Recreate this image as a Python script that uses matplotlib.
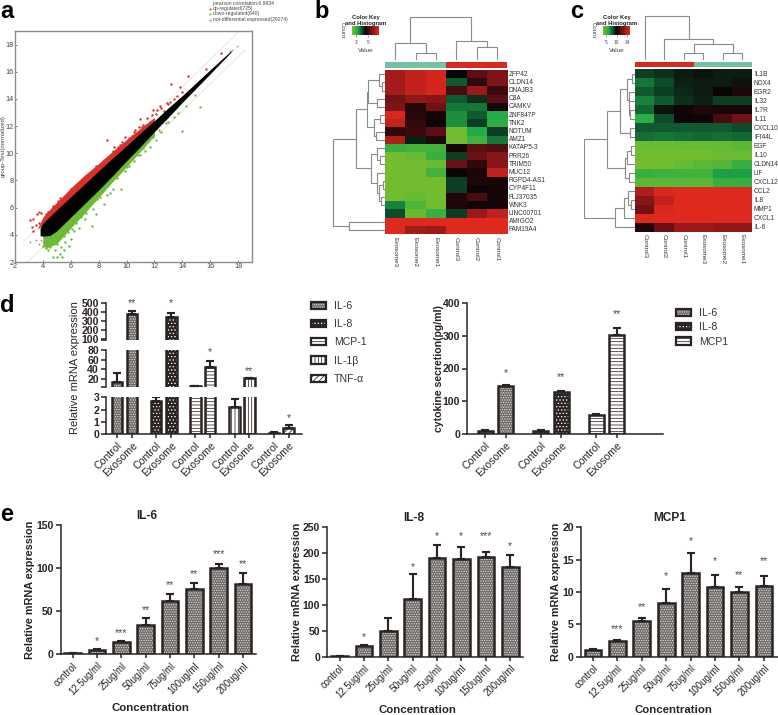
import numpy as np
import matplotlib
matplotlib.use("Agg")
import matplotlib.pyplot as plt
from matplotlib.colors import LinearSegmentedColormap
from matplotlib.patches import Patch, Rectangle
from matplotlib.legend_handler import HandlerBase

plt.rcParams['font.family'] = ['Liberation Sans', 'DejaVu Sans']
plt.rcParams['hatch.linewidth'] = 0.55

W, H = 778, 715
INK = '#2b2321'
STAR = '#4a4a4a'

# ---------- panel a ----------
band_x = [3.8, 4, 4.5, 5, 6, 7, 8, 9, 10, 11, 12, 13, 14, 15, 16, 17, 17.5]
band_hi = [4.5, 4.85, 5.35, 5.85, 6.8, 7.75, 8.7, 9.65, 10.55, 11.5, 12.4, 13.35, 14.25, 15.2, 16.15, 17.08, 17.55]
band_lo = [3.95, 3.9, 3.95, 4.3, 5.3, 6.3, 7.3, 8.35, 9.45, 10.5, 11.6, 12.65, 13.75, 14.8, 15.85, 16.92, 17.45]
red_x = [3.6, 4, 4.6, 5.2, 6, 7, 8, 9, 10, 11, 12]
red_hi = [4.4, 5.3, 6.0, 6.6, 7.45, 8.4, 9.25, 10.15, 11.0, 11.85, 12.65]
green_x = [4, 4.3, 5, 6, 7, 8, 9, 10, 11, 12]
green_lo = [3.15, 3.05, 3.35, 4.5, 5.6, 6.75, 7.9, 9.0, 10.15, 11.3]
red_px = [3.05, 3.3, 3.6, 3.75, 3.9, 3.5, 3.3, 3.2, 3.7, 4.1, 4.3, 4.5, 4.6, 4.8, 4.9, 5, 5.1, 5.3, 5.5, 5.6, 5.9,
          6.2, 6.4, 6.6, 6.7, 7.0, 7.2, 7.3, 7.5, 7.7, 7.9, 8.1, 8.3, 8.5, 8.6, 8.7, 8.9, 9.1, 9.2, 9.4, 9.6, 9.8,
          10, 10.2, 10.5, 10.7, 11, 11.1, 11.4, 11.7, 11.9, 12.1, 12.4, 12.7, 13, 13.2, 13.4, 13.8, 14, 14.4, 15.7, 16.8,
          5.4, 5.8, 6.1, 6.5, 6.9, 7.1, 7.6, 8.0, 8.2, 8.8, 9.3, 9.7, 10.1, 10.4, 11.2, 12.2,
          4.2, 4.4, 4.7, 5.0, 5.2, 5.7, 6.0, 6.3, 6.8, 7.4, 7.8, 8.4, 9.0, 9.5, 9.9, 10.6, 10.9, 11.5, 11.8, 12.5, 12.9, 13.1, 13.6]
red_py = [5.1, 5.15, 5.5, 5.7, 5.6, 4.7, 4.3, 4.6, 4.9, 5.2, 5.4, 5.5, 5.1, 6, 5.5, 6.2, 6.5, 5.9, 6.3, 6.5, 6.5,
          7.3, 6.9, 7.3, 7.5, 7.9, 8.1, 7.9, 8.4, 8.4, 8.8, 9, 9.2, 9.1, 11.0, 9.6, 9.7, 10.5, 9.9, 10.5, 10.6, 10.5,
          10.9, 11.1, 11.6, 11.3, 12.5, 11.9, 12.1, 12.3, 13.2, 12.9, 13.5, 13.1, 13.6, 15.1, 14, 14.9, 14.5, 15.7, 16.2, 17.4,
          6.2, 6.6, 7.0, 7.2, 7.7, 8.0, 8.3, 8.9, 9.1, 9.8, 10.3, 10.8, 11.0, 11.3, 12.1, 13.2,
          5.5, 5.7, 6.1, 6.0, 6.7, 6.9, 7.4, 7.5, 8.1, 8.5, 9.1, 9.5, 10.2, 10.6, 11.2, 11.7, 11.9, 12.6, 12.8, 13.3, 13.7, 13.8, 14.2]
green_px = [4.0, 4.1, 4.2, 4.4, 4.6, 4.7, 5, 5.2, 5.4, 5.5, 4.3, 5, 5.2, 5.6, 5.9, 6, 6.2, 6.4, 6.6, 7, 7.5, 7.6, 7.8,
            8.4, 8.6, 8.8, 9, 9.6, 9.3, 9.9, 10.2, 10.5, 11, 11.3, 11.7, 12.1, 12.5, 13, 13.4, 14, 13.7, 14.3, 15.3, 14.9,
            4.5, 4.8, 5.1, 5.4, 5.7, 6.1, 6.5, 6.9, 7.3, 8.1,
            4.9, 5.3, 5.5, 5.8, 6.3, 6.7, 7.1, 7.4, 7.9, 8.3, 8.7, 9.2, 9.5, 10.0, 10.4, 10.8, 11.2, 11.5, 11.9, 12.3, 12.8]
green_py = [3.2, 3.5, 3.0, 2.9, 3.4, 2.35, 2.4, 2.6, 2.35, 2.9, 3.6, 3.3, 3.8, 3.5, 3.2, 3.7, 4.3, 4.9, 4.5, 5.2, 4.65, 5.9, 5.5,
            6.3, 6.9, 7.1, 7.4, 7.4, 8.2, 8.7, 9.1, 9.4, 9.9, 10.2, 10.5, 11, 11.6, 12.3, 12.7, 11.65, 13, 13.5, 13.4, 14.3,
            3.1, 3.7, 4.0, 4.3, 4.7, 4.4, 5.5, 5.9, 6.2, 6.8,
            2.9, 3.1, 3.9, 4.2, 5.0, 5.3, 5.6, 6.4, 6.6, 7.3, 7.8, 8.4, 8.6, 9.0, 9.6, 9.9, 10.4, 10.8, 11.2, 11.7, 12.2]
grey_px = [3.1, 3.5, 3.7, 3.9, 4.1, 4.3, 3.85, 4.0, 4.2, 17.4, 17.6, 17.9]
grey_py = [3.45, 3.6, 3.3, 3.65, 3.75, 3.5, 4.0, 3.5, 3.85, 17.5, 17.6, 17.9]
a_ticks = [2, 4, 6, 8, 10, 12, 14, 16, 18]
a_legend = ['pearson correlation:0.9934', 'up-regulated(725)', 'down-regulated(640)', 'not-differential expressed(29274)']

# ---------- panels b, c ----------
b_rows = ['ZFP42', 'CLDN14', 'DNAJB3', 'C8A', 'CAMKV', 'ZNF847P', 'TNK2', 'NOTUM', 'AMZ1', 'KATAP5-3', 'PRR26', 'TRIM50',
          'MUC12', 'RGPD4-AS1', 'CYP4F11', 'FLJ37035', 'WNK3', 'LINC00701', 'AMIGO2', 'FAM19A4']
b_cols = ['Exosome3', 'Exosome2', 'Exosome1', 'Control3', 'Control2', 'Control1']
b_vals = [[.7, .85, .95, 0, .35, .5],
          [.7, .85, .95, -.3, .15, .5],
          [.7, .85, .95, .25, .65, .2],
          [.45, .6, .55, -.3, -.15, .35],
          [.5, .1, .45, -.4, -.4, .05],
          [.97, .12, .05, -.5, -.3, -.6],
          [.85, .15, 0, -.5, -.2, -.65],
          [.15, .2, .35, -.95, -.6, -.2],
          [.75, -.1, .1, -.95, -.75, -.4],
          [-.7, -.75, -.75, .05, .35, .3],
          [-.95, -.9, -.7, -.2, .4, .55],
          [-.95, -.95, -.9, .4, .15, .55],
          [-.95, -.95, -.75, 0, .07, .85],
          [-.95, -.95, -.95, -.2, .08, .05],
          [-.95, -.95, -.95, -.2, 0, .05],
          [-.95, -.9, -.95, .1, .25, .05],
          [-.45, -.8, -.95, .1, .03, .03],
          [-.25, -.9, -.7, -.2, .65, .85],
          [1, 1, 1, 1, 1, 1],
          [1, .7, .65, 1, 1, 1]]
c_rows = ['IL1B', 'NOX4', 'EGR2', 'IL32', 'IL7R', 'IL11', 'CXCL10', 'IFI44L', 'EGF', 'IL10', 'CLDN14', 'LIF', 'CXCL12',
          'CCL2', 'IL8', 'MMP1', 'CXCL1', 'IL-6']
c_cols = ['Control3', 'Control2', 'Control1', 'Exosome3', 'Exosome2', 'Exosome1']
c_vals = [[-.2, -.15, -.08, -.05, -.08, -.08],
          [-.4, -.25, -.1, -.08, -.08, -.05],
          [-.3, -.2, -.13, -.08, 0, .1],
          [-.45, -.3, -.15, -.1, -.2, -.2],
          [-.35, -.05, .03, .1, .05, .05],
          [-.65, -.25, 0, .02, .25, .45],
          [-.3, -.3, -.3, -.3, -.3, -.25],
          [-.38, -.4, -.38, -.35, -.38, -.35],
          [-.92, -.92, -.9, -.9, -.9, -.85],
          [-.95, -.95, -.95, -.95, -.92, -.92],
          [-.95, -.95, -.9, -.85, -.82, -.7],
          [-.7, -.72, -.72, -.75, -.55, -.55],
          [-.85, -.85, -.85, -.85, -.7, -.68],
          [.75, .97, 1, 1, 1, 1],
          [.55, .85, 1, 1, 1, 1],
          [.45, .97, 1, 1, 1, 1],
          [1, 1, 1, 1, 1, 1],
          [.08, .4, .65, .65, .6, .6]]
# dendrograms as nested (left, right, merge height)
b_top = ((0, (1, 2, 7), 17), (3, (4, 5, 13), 19), 43)
b_main_top = (((0, (1, 2, 3), 6), (3, 4, 8), 17), ((5, 6, 5), (7, 8, 9), 11), 18)
b_main_bot = ((9, (10, 11, 5), 8), (12, ((13, 14, 2), (15, 16, 4), 6), 8), 14)
b_left = ((b_main_top, b_main_bot, 29), (18, 19, 36), 52)
c_top = (0, (1, ((2, 3, 7), (4, 5, 7), 16), 21), 44)
c_upper = (((0, 1, 3), (2, (3, (4, 5, 5), 6), 6), 8), (6, 7, 5), 15)
c_mid = (((8, 9, 4), 10, 8), (11, 12, 6), 10)
c_low = (((13, (14, 15, 4), 7), 16, 11), 17, 20)
c_left = ((c_upper, c_mid, 28), c_low, 51)

# ---------- panel d ----------
d_groups = ['IL-6', 'IL-8', 'MCP-1', 'IL-1\u03b2', 'TNF-\u03b1']
d_ctrl = [13, 2.7, 5, 2.2, 0.12]
d_ctrl_top = [33, 3.0, 6, 2.9, 0.15]
d_exo = [375, 345, 45, 22, 0.5]
d_exo_top = [410, 385, 57, 23, 0.7]
d_stars = ['**', '*', '*', '**', '*']
d_star_val = [500, 500, 77, 36.5, 1.27]
d_star_seg = [2, 2, 1, 1, 0]
cyto_groups = ['IL-6', 'IL-8', 'MCP1']
cyto_ctrl = [10, 10, 59]
cyto_ctrl_top = [11, 11, 60]
cyto_exo = [147, 127, 302]
cyto_exo_top = [150, 132, 323]
cyto_stars = ['*', '**', '**']
cyto_star_val = [185, 173, 365]

# ---------- panel e ----------
conc = ['control', '12.5ug/ml', '25ug/ml', '50ug/ml', '75ug/ml', '100ug/ml', '150ug/ml', '200ug/ml']
il6 = [1, 5.5, 14.5, 34, 62, 76, 100, 81]
il6_top = [1.3, 6.5, 15, 42, 70, 82, 105, 94]
il6_st = ['', '*', '***', '**', '**', '**', '***', '**']
il6_sv = [0, 15.4, 24.3, 51, 80, 93, 116, 105]
il8 = [1, 21, 50, 112, 190, 189, 192, 173]
il8_top = [1.5, 23, 74, 159, 215, 211, 203, 196]
il8_st = ['', '*', '', '*', '*', '*', '***', '*']
il8_sv = [0, 37, 0, 174, 233, 233, 233, 214]
mcp = [1, 2.5, 5.5, 8.3, 13, 10.8, 10, 11]
mcp_top = [1.2, 2.6, 6, 10.5, 16, 12.7, 10.8, 12.5]
mcp_st = ['', '***', '**', '*', '*', '*', '**', '**']
mcp_sv = [0, 4.2, 7.7, 12.5, 17.9, 14.8, 12.6, 14.8]

HM = LinearSegmentedColormap.from_list('gbr', [(0, '#7cc02c'), (.2, '#22ab48'), (.35, '#0f5a30'), (.5, '#0b0507'),
                                               (.7, '#6a1016'), (1, '#df281e')])
# name -> (hatch, hatch colour, face colour)
FILL = {'IL-6': ('.......', '#e8e8e8', '#6e6a68'),
        'IL-8': ('.....', 'white', '#2b2321'),
        'MCP-1': ('-----', INK, 'white'),
        'MCP1': ('-----', INK, 'white'),
        'IL-1\u03b2': ('|||||', INK, 'white'),
        'TNF-\u03b1': ('//////', INK, 'white')}

fig = plt.figure(figsize=(W / 100, H / 100), dpi=100)


def px(x0, y0, x1, y1, **kw):
    return fig.add_axes([x0 / W, 1 - y1 / H, (x1 - x0) / W, (y1 - y0) / H], **kw)


ov = px(0, 0, W, H, zorder=10)
ov.set_xlim(0, W)
ov.set_ylim(H, 0)
ov.axis('off')
for t, x, y in [('a', 0, 18), ('b', 314, 18), ('c', 570, 18), ('d', 0, 312), ('e', 0, 521)]:
    ov.text(x, y, t, fontsize=17, fontweight='bold', color='black', va='baseline')

# panel a
ax = px(15, 31, 252, 262)
ax.set_xlim(2, 19)
ax.set_ylim(2, 19)
lx = np.array([2.6, 18.5])
ax.plot(lx, lx + 0.9, color='#e4e4e4', lw=.6, zorder=.5)
ax.plot(lx, lx - 0.9, color='#e4e4e4', lw=.6, zorder=.5)
ax.fill_between(red_x, np.interp(red_x, band_x, band_hi) - .1, red_hi, color='#d8302a', lw=0)
ax.fill_between(green_x, green_lo, np.interp(green_x, band_x, band_lo) + .1, color='#6dbb35', lw=0)
ax.scatter(red_px, red_py, s=3, color='#d8302a', lw=0)
ax.scatter(green_px, green_py, s=3, color='#6dbb35', lw=0)
ax.scatter(grey_px, grey_py, s=1.6, color='#8a8f99', lw=0)
ax.fill_between(band_x, band_lo, band_hi, color='black', lw=0, zorder=3)
ax.set_xticks(a_ticks)
ax.set_yticks(a_ticks)
ax.tick_params(labelsize=5.2, length=1.5, width=.5, pad=1, colors='#444444', direction='in')
for s in ax.spines.values():
    s.set_color('#8c8c8c')
    s.set_linewidth(1)
ax.set_ylabel('group-Test(normalized)', fontsize=4.3, color='#444444', labelpad=-.5)
for i, (t, c, y) in enumerate(zip(a_legend, [None, '#d8302a', '#6dbb35', '#999999'], [3, 8.5, 14, 20])):
    ov.text(213, y, t, fontsize=3.6, color='#444444', va='center')
    if c:
        ov.plot([210], [y], 's', ms=1.3, color=c, mew=0)


def tree(ax, node, vertical):
    if isinstance(node, int):
        return node + .5, 0
    a, b, h = node
    pa, ha = tree(ax, a, vertical)
    pb, hb = tree(ax, b, vertical)
    xs, ys = [pa, pa, pb, pb], [ha, h, h, hb]
    if vertical:
        ax.plot(xs, ys, color='#8a8a8a', lw=.8, solid_joinstyle='miter')
    else:
        ax.plot(ys, xs, color='#8a8a8a', lw=.8, solid_joinstyle='miter')
    return (pa + pb) / 2, h


def heat(vals, rows, cols, tr_top, tr_left, x0, x1, y0, y1, bar0, bar1, bar_cols, lx0, key, kticks, ly):
    a = px(x0, y0, x1, y1)
    a.imshow(np.array(vals), cmap=HM, vmin=-1, vmax=1, aspect='auto', interpolation='nearest',
             extent=(0, len(cols), len(rows), 0))
    a.set_xticks([])
    a.set_yticks([])
    for s in a.spines.values():
        s.set_visible(False)
    for i, r in enumerate(rows):
        ov.text(x1 + 2, y0 + (i + .5) * (y1 - y0) / len(rows), r, fontsize=4.7, color='#333333', va='center')
    for i, c in enumerate(cols):
        ov.text(x0 + (i + .5) * (x1 - x0) / 6, ly, c, fontsize=4.6, color='#333333', rotation=270,
                ha='center', va='top')
    bar = px(x0, bar0, x1, bar1)
    bar.axis('off')
    bar.set_xlim(0, 6)
    bar.set_ylim(0, 1)
    bar.bar(np.arange(6) + .5, [1] * 6, width=1, color=bar_cols, lw=0)
    t = px(x0, bar0 - 52, x1, bar0 - 2)
    t.axis('off')
    t.set_xlim(0, 6)
    t.set_ylim(0, 50)
    tree(t, tr_top, True)
    l = px(lx0, y0, x0, y1)
    l.axis('off')
    l.set_xlim(x0 - lx0, 0)
    l.set_ylim(len(rows), 0)
    tree(l, tr_left, False)
    k = px(key[0], 26, key[1], 35)
    k.imshow(np.linspace(-1, 1, 64)[None, :], cmap=HM, aspect='auto', extent=(0, 1, 0, 1))
    k.set_yticks([])
    k.set_xticks([p for p, _ in kticks])
    k.set_xticklabels([s for _, s in kticks], fontsize=3.4, color='#444444')
    k.tick_params(length=1.2, width=.4, pad=2.5, color='#444444')
    for s in k.spines.values():
        s.set_visible(False)
    mid = (key[0] + key[1]) / 2
    ov.text(mid, 17, 'Color Key', fontsize=4.2, fontweight='bold', ha='center', va='center', color='#222222')
    ov.text(mid, 23, 'and Histogram', fontsize=4.2, fontweight='bold', ha='center', va='center', color='#222222')
    ov.text(mid, 51, 'Value', fontsize=4.6, ha='center', va='center', color='#444444')
    ov.text(key[0] - 10, 30, 'Count', fontsize=4.4, rotation=270, ha='center', va='center', color='#444444')


TEAL, RED = '#72c3a2', '#d9281f'
heat(b_vals, b_rows, b_cols, b_top, b_left, 385, 507, 70, 234, 62, 68, [TEAL] * 3 + [RED] * 3, 332,
     (352, 379), [(.15, '3'), (.6, '5')], 237)
heat(c_vals, c_rows, c_cols, c_top, c_left, 635, 752, 69.5, 232, 62, 67, [RED] * 3 + [TEAL] * 3, 584,
     (603, 630), [(.1, '5'), (.5, '10'), (.9, '14')], 234)


def style(a, bottom=True):
    a.patch.set_alpha(0)
    a.spines['top'].set_visible(False)
    a.spines['right'].set_visible(False)
    a.spines['left'].set_linewidth(1.1)
    a.spines['left'].set_color(INK)
    a.spines['bottom'].set_linewidth(1.1)
    a.spines['bottom'].set_color(INK)
    a.spines['bottom'].set_visible(bottom)
    a.tick_params(axis='y', length=3.5, width=1.1, color=INK, pad=1.5, labelcolor=INK)
    a.tick_params(axis='x', length=3, width=1.1, color=INK, pad=1.5, labelcolor=INK)


def bars(a, xs, vals, tops, w, name, lw=1.8, cap=2.6, floor=None):
    h, hc, fc = FILL[name]
    a.bar(xs, vals, width=w, facecolor=fc, hatch=h, edgecolor=hc, linewidth=0)
    for x, v, t in zip(xs, vals, tops):
        if floor is not None and v <= floor:
            continue
        a.bar([x], [v], width=w, fill=False, edgecolor=INK, linewidth=lw)
        if floor is None or t > floor:
            a.errorbar([x], [v], yerr=[[0], [t - v]], color=INK, lw=lw * .85, capsize=cap, capthick=lw * .85, fmt='none')


class SwatchHandler(HandlerBase):
    def create_artists(self, legend, orig, xd, yd, width, height, fontsize, trans):
        h, hc, fc = FILL[orig.get_label()]
        r1 = Rectangle((-xd, -yd), width, height, facecolor=fc, hatch=h, edgecolor=hc, linewidth=0, transform=trans)
        r2 = Rectangle((-xd, -yd), width, height, fill=False, edgecolor=INK, linewidth=1.6, transform=trans)
        return [r1, r2]


def swatch_legend(names, x, y, fs, spacing):
    h = [Patch(label=n) for n in names]
    fig.legend(handles=h, loc='upper left', bbox_to_anchor=(x, y), bbox_transform=ov.transData, frameon=False,
               fontsize=fs, labelspacing=spacing, handlelength=1.45, handleheight=.7, handletextpad=.75, borderpad=0,
               borderaxespad=0, labelcolor='#333333', handler_map={Patch: SwatchHandler()})


# panel d left
d_segs = [(397.3, 434, 0, 3, [0, 1, 2, 3]), (350.3, 387.3, 2.8, 80, [2.8, 20, 40, 60, 80]),
          (303, 340, 89, 500, [89, 100, 200, 300, 400, 500])]
UNIT = 14.7
xs_c = [(c - 106) / UNIT for c in [117, 156, 195.3, 234.7, 274]]
xs_e = [(c - 106) / UNIT for c in [132, 171.3, 210, 249.3, 288.7]]
seg_axes = []
for k, (top, bot, lo, hi, ticks) in enumerate(d_segs):
    a = px(106, top, 301.7, bot)
    a.set_xlim(0, (301.7 - 106) / UNIT)
    a.set_ylim(lo, hi)
    style(a, bottom=k == 0)
    for i, g in enumerate(d_groups):
        bars(a, [xs_c[i]], [d_ctrl[i]], [d_ctrl_top[i]], .73, g, floor=lo if k else None)
        bars(a, [xs_e[i]], [d_exo[i]], [d_exo_top[i]], .73, g, floor=lo if k else None)
    a.set_yticks(ticks)
    a.set_yticklabels(['' if t in (2.8, 89) else str(t) for t in ticks], fontsize=7.6, fontweight='bold')
    if k == 0:
        a.set_xticks(sorted(xs_c + xs_e))
        a.set_xticklabels(['Control', 'Exosome'] * 5, rotation=45, ha='right', rotation_mode='anchor', fontsize=7.6)
    else:
        a.set_xticks([])
    seg_axes.append(a)
for i in range(5):
    seg_axes[d_star_seg[i]].text(xs_e[i], d_star_val[i], d_stars[i], fontsize=7.5, color=STAR, ha='center',
                                 va='center', clip_on=False)
ov.text(75, 368, 'Relative mRNA expression', rotation=90, fontsize=8, color=INK, ha='center', va='center')
swatch_legend(d_groups, 311, 301, 7.6, .78)

# panel d right
a = px(467.3, 303, 663, 434)
a.set_xlim(467.3, 663)
a.set_ylim(0, 400)
style(a)
rc = [485, 540.7, 596]
re = [505.7, 561.3, 616.7]
for i, g in enumerate(cyto_groups):
    bars(a, [rc[i]], [cyto_ctrl[i]], [cyto_ctrl_top[i]], 15, g)
    bars(a, [re[i]], [cyto_exo[i]], [cyto_exo_top[i]], 15, g)
    a.text(re[i], cyto_star_val[i], cyto_stars[i], fontsize=7.5, color=STAR, ha='center', va='center')
a.set_yticks([0, 100, 200, 300, 400])
a.set_yticklabels(['0', '100', '200', '300', '400'], fontsize=7.6, fontweight='bold')
a.set_xticks(sorted(rc + re))
a.set_xticklabels(['Control', 'Exosome'] * 3, rotation=45, ha='right', rotation_mode='anchor', fontsize=7.6)
a.set_ylabel('cytokine secretion(pg/ml)', fontsize=7.6, fontweight='bold', color=INK, labelpad=-.6)
swatch_legend(cyto_groups, 676, 308, 7.6, .42)


# panel e
def epanel(name, vals, tops, st, sv, spine, right, top, bot, ymax, ticks, centers, lab_x, title_x, title_y, xl_y):
    a = px(spine, top, right, bot)
    a.set_xlim(spine, right)
    a.set_ylim(0, ymax)
    style(a)
    bars(a, centers, vals, tops, 16.5, 'IL-6', cap=3)
    for c, s, v in zip(centers, st, sv):
        if s:
            a.text(c, v, s, fontsize=7.5, color=STAR, ha='center', va='center')
    a.set_yticks(ticks)
    a.set_yticklabels([str(t) for t in ticks], fontsize=7.6, fontweight='bold')
    a.set_xticks(centers)
    a.set_xticklabels(conc, rotation=45, ha='right', rotation_mode='anchor', fontsize=6.9)
    ov.text(lab_x, (top + bot) / 2, 'Relative mRNA expression', rotation=90, fontsize=7.8, fontweight='bold', color=INK,
            ha='center', va='center')
    ov.text(title_x, title_y, name, fontsize=8.6, fontweight='bold', color=INK, ha='center', va='center')
    ov.text(title_x + 3, xl_y, 'Concentration', fontsize=8.2, fontweight='bold', color=INK, ha='center', va='center')


epanel('IL-6', il6, il6_top, il6_st, il6_sv, 60.7, 256, 524.7, 654.3, 150, [0, 50, 100, 150],
       [72.7, 97, 121.3, 145.7, 170, 194.3, 218.7, 243], 30, 147, 516, 708)
epanel('IL-8', il8, il8_top, il8_st, il8_sv, 327.3, 522.7, 527.3, 656.7, 250, [0, 50, 100, 150, 200, 250],
       [339.7, 364, 388.3, 412.7, 437, 461.3, 486, 510.3], 297, 414, 518, 710)
epanel('MCP1', mcp, mcp_top, mcp_st, mcp_sv, 580.7, 778, 527.3, 656.7, 20, [0, 5, 10, 15, 20],
       [593, 617.3, 641.7, 666.3, 690.7, 715, 739.3, 764], 555.7, 670, 518, 710)

fig.savefig('out.png', dpi=100)
